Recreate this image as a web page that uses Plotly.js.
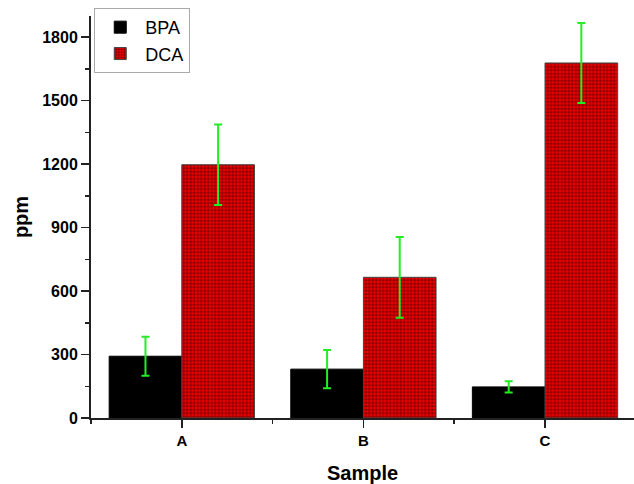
<!DOCTYPE html>
<html>
<head>
<meta charset="utf-8">
<script src="https://cdn.plot.ly/plotly-3.0.1.min.js"></script>
<style>html,body{margin:0;padding:0;background:#fff;}#chart{width:634px;height:484px;}</style>
</head>
<body>
<div id="chart"></div>
<script>
const categories = ["A", "B", "C"];
const bpaValues = [292, 231, 147];
const bpaErrors = [92, 90, 27];
const dcaValues = [1197, 665, 1678];
const dcaErrors = [190, 191, 189];
const yTickVals = [0, 300, 600, 900, 1200, 1500, 1800];

const xPos = categories.map((c, i) => i);
const font = "Liberation Sans, Arial, sans-serif";

const traces = [
  {
    type: "bar", name: "BPA", x: xPos, y: bpaValues,
    marker: {color: "#000000", line: {color: "#000000", width: 1}},
    error_y: {type: "data", array: bpaErrors, visible: true, color: "#22ee22", thickness: 2, width: 4}
  },
  {
    type: "bar", name: "DCA", x: xPos, y: dcaValues,
    marker: {color: "#ee0000", line: {color: "#444444", width: 1},
      pattern: {shape: "+", fgcolor: "#3a0000", bgcolor: "#ee0000", fillmode: "replace", size: 3.5, solidity: 0.28}},
    error_y: {type: "data", array: dcaErrors, visible: true, color: "#22ee22", thickness: 2, width: 4}
  }
];

const layout = {
  width: 634, height: 484,
  margin: {l: 91, r: 0, t: 16, b: 66},
  paper_bgcolor: "#ffffff", plot_bgcolor: "#ffffff",
  barmode: "group", bargap: 0.2, bargroupgap: 0,
  showlegend: true,
  legend: {
    x: 0.006, y: 1.02, xanchor: "left", yanchor: "top",
    bordercolor: "#aaaaaa", borderwidth: 1, bgcolor: "#ffffff",
    font: {family: font, size: 18, color: "#000"},
    tracegroupgap: 0, itemwidth: 40
  },
  xaxis: {
    range: [-0.5, 2.49], showgrid: false, zeroline: false,
    showline: true, linecolor: "#222", linewidth: 2,
    tickmode: "array", tickvals: xPos, ticktext: categories,
    ticks: "outside", ticklen: 8, tickwidth: 1.5, tickcolor: "#222",
    tickfont: {family: font, size: 15, color: "#000", weight: "bold"},
    minor: {tickmode: "array", tickvals: [-0.5, 0.5, 1.5, 2.5], ticks: "outside", ticklen: 4, tickwidth: 1.5, tickcolor: "#222"},
    title: {text: "<b>Sample</b>", font: {family: font, size: 20, color: "#000"}, standoff: 18}
  },
  yaxis: {
    range: [0, 1900], showgrid: false, zeroline: false,
    showline: true, linecolor: "#222", linewidth: 2,
    tickmode: "array", tickvals: yTickVals,
    ticks: "outside", ticklen: 8, tickwidth: 1.5, tickcolor: "#222",
    tickfont: {family: font, size: 16, color: "#000", weight: "bold"},
    minor: {dtick: 150, tick0: 0, ticks: "outside", ticklen: 4, tickwidth: 1.5, tickcolor: "#222"},
    title: {text: "<b>ppm</b>", font: {family: font, size: 20, color: "#000"}, standoff: 8}
  }
};

Plotly.newPlot("chart", traces, layout, {staticPlot: true, displayModeBar: false});
</script>
</body>
</html>
